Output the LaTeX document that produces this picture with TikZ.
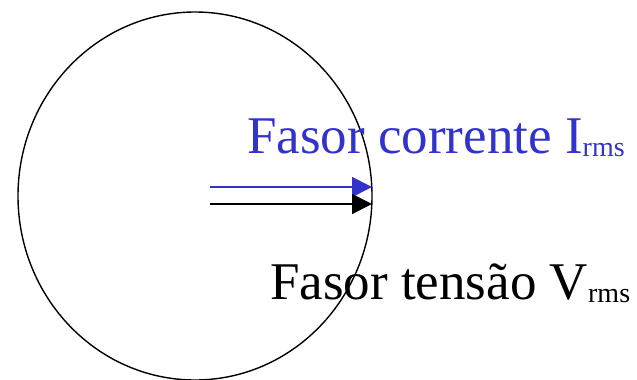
\documentclass[tikz,border=0pt]{standalone}
\usepackage{fontspec}
\setmainfont{Liberation Serif}
\usetikzlibrary{arrows.meta}
\definecolor{fblue}{RGB}{51,51,204}
\tikzset{
  phasor/.style={line width=1.8pt, -{Triangle[length=20pt,width=20pt]}},
  lbl/.style={anchor=base west, inner sep=0pt, font=\fontsize{53}{60}\selectfont},
}
\newcommand{\rmssub}{\raisebox{-3pt}{\fontsize{28}{30}\selectfont rms}}
\begin{document}
\begin{tikzpicture}[x=1pt,y=-1pt]
\useasboundingbox (0,0) rectangle (637,380);
\draw[line width=1.4pt] (195,196) ellipse [x radius=177, y radius=184];
\coordinate (is) at (210,187);
\coordinate (ie) at (372,187);
\coordinate (vs) at (210,204);
\coordinate (ve) at (372,204);
\draw[phasor, fblue] (is) -- (ie);
\draw[phasor, black] (vs) -- (ve);
\node[lbl, text=fblue] (ti) at (247,153) {Fasor corrente I\rmssub};
\node[lbl] (tv) at (270,299) {Fasor tensão V\rmssub};
\end{tikzpicture}
\end{document}
